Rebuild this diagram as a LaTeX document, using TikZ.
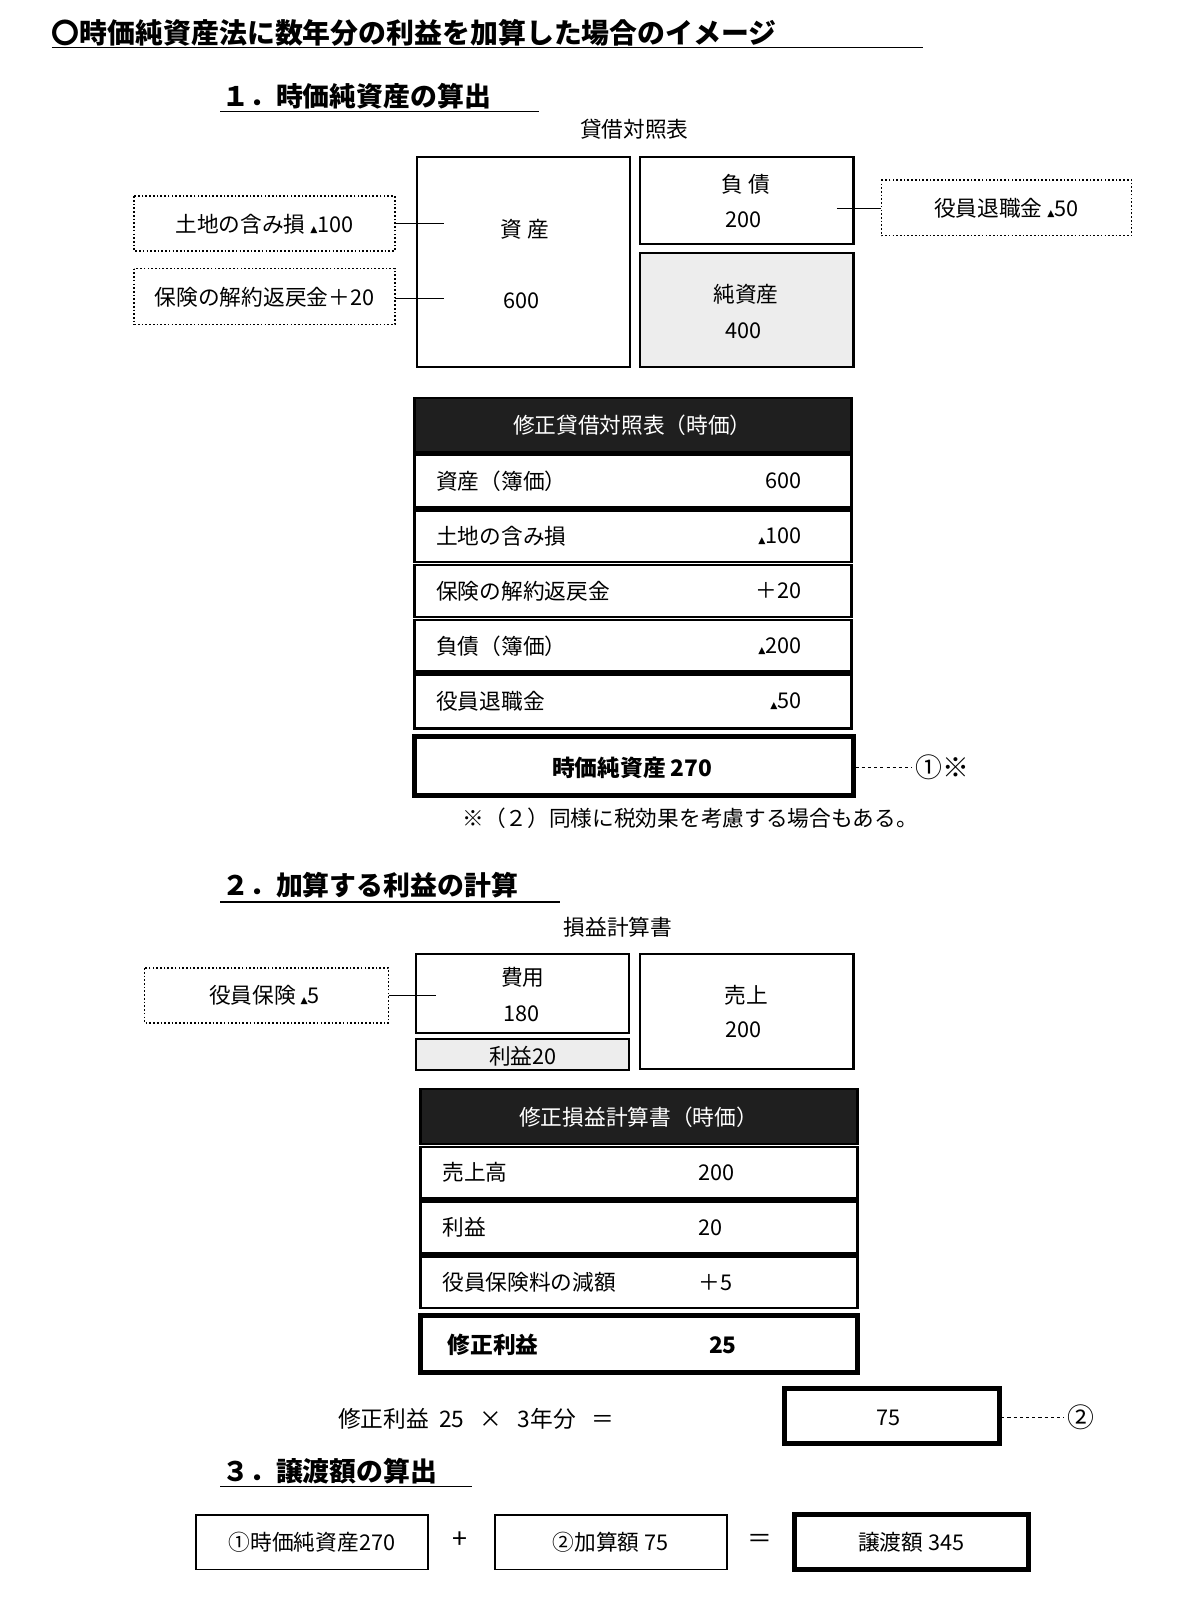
\documentclass[tikz,border=0pt]{standalone}
\usepackage{fontspec}
\setmainfont{Noto Sans CJK JP}
\newfontfamily\sym{DejaVu Sans}
\begin{document}
\begin{tikzpicture}[x=1pt,y=-1pt,
  every node/.style={inner sep=0pt,font=\fontsize{21}{24}\selectfont},
  bx/.style={draw,line width=2pt},
  dbx/.style={draw,dotted,line width=1.6pt},
  hd/.style={fill=black!88,draw,line width=2.5pt},
  rw/.style={draw,line width=2.5pt},
  tot/.style={draw,line width=5pt},
  ttl/.style={anchor=west,font=\fontsize{26}{28}\bfseries\selectfont},
  lk/.style={line width=1pt}]
\useasboundingbox (0,0) rectangle (1160,1564);
% title
\node[ttl,font=\fontsize{27}{30}\bfseries\selectfont] (t0) at (50,32) {〇時価純資産法に数年分の利益を加算した場合のイメージ};
\draw[line width=1.2pt] (50,46) -- (893,46);
\node[ttl] (h1) at (215,93) {１．時価純資産の算出};
\draw[line width=1.2pt] (213,108) -- (522,108);
\node (bs) at (614,125) {貸借対照表};
% BS
\draw[bx] (404,152) rectangle (610,355);
\node (a1) at (508,222) {資 産};
\node (a2) at (505,291) {600};
\draw[bx] (619,152) rectangle (826,236);
\node at (722,178) {負 債};
\node at (720,213) {200};
\draw[bx,fill=black!7] (619,245) rectangle (826,355);
\node at (722,285) {純資産};
\node at (720,320) {400};
\draw[dbx] (130,190) rectangle (382,243);
\node (d1) at (256,217) {土地の含み損 {\sym\small▲}100};
\draw[dbx] (130,260) rectangle (382,314);
\node (d2) at (256,288) {保険の解約返戻金＋20};
\draw[lk] (382,216) -- (430,216);
\draw[lk] (382,289) -- (430,289);
\draw[dbx] (853,174) rectangle (1095,228);
\node (d3) at (974,202) {役員退職金 {\sym\small▲}50};
\draw[lk] (810,202) -- (853,202);
% table 1
\draw[hd] (401,385) rectangle (824,438);
\node[text=white] at (612,412) {修正貸借対照表（時価）};
\foreach \a/\b/\l/\v in {440/491/資産（簿価）/600, 494/544/土地の含み損/{\sym\small▲}100, 547/597/保険の解約返戻金/＋20, 600/650/負債（簿価）/{\sym\small▲}200, 653/705/役員退職金/{\sym\small▲}50}{
  \draw[rw] (401,\a) rectangle (824,\b);
  \node[anchor=west] at (422,{(\a+\b)/2}) {\l};
  \node[anchor=east] at (776,{(\a+\b)/2}) {\v};
}
\draw[tot] (401,713) rectangle (826,770);
\node[font=\fontsize{22}{24}\bfseries\selectfont] (tn) at (612,743) {時価純資産 270};
\node[font=\fontsize{26}{28}\selectfont] (c1) at (912,743) {①※};
\draw[dashed,line width=1.5pt] (828,743) -- (883,743);
\node (note) at (668,792) {※（２）同様に税効果を考慮する場合もある。};
% section 2
\node[ttl] (h2) at (215,857) {２．加算する利益の計算};
\draw[line width=1.2pt] (213,873) -- (542,873);
\node (pl) at (598,897) {損益計算書};
\draw[bx] (403,923) rectangle (609,1000);
\node at (506,946) {費用};
\node at (505,981) {180};
\draw[bx,fill=black!7] (403,1006) rectangle (609,1036);
\node at (506,1022) {利益20};
\draw[bx] (619,923) rectangle (826,1035);
\node at (722,963) {売上};
\node at (720,997) {200};
\draw[dbx] (140,937) rectangle (376,990);
\node (d4) at (256,963) {役員保険 {\sym\small▲}5};
\draw[lk] (376,963) -- (422,963);
\draw[hd] (407,1054) rectangle (830,1107);
\node[text=white] at (618,1081) {修正損益計算書（時価）};
\foreach \a/\b/\l/\v in {1110/1160/売上高/200, 1163/1213/利益/20, 1216/1266/役員保険料の減額/＋5}{
  \draw[rw] (407,\a) rectangle (830,\b);
  \node[anchor=west] at (428,{(\a+\b)/2}) {\l};
  \node[anchor=west] at (676,{(\a+\b)/2}) {\v};
}
\draw[tot] (407,1273) rectangle (830,1328);
\node[anchor=west,font=\fontsize{22}{24}\bfseries\selectfont] at (433,1302) {修正利益};
\node[anchor=west,font=\fontsize{22}{24}\bfseries\selectfont] at (686,1302) {25};
\node[anchor=west,font=\fontsize{22}{24}\selectfont] (eq) at (327,1373) {修正利益\ \ 25\ \ \ ×\ \ \ 3年分\ \ \ ＝};
\draw[tot] (759,1344) rectangle (967,1397);
\node (v75) at (860,1372) {75};
\draw[dashed,line width=1.5pt] (969,1372) -- (1030,1372);
\node[font=\fontsize{26}{28}\selectfont] (c2) at (1046,1372) {②};
% section 3
\node[ttl] (h3) at (215,1424) {３．譲渡額の算出};
\draw[line width=1.2pt] (213,1439) -- (457,1439);
\draw[line width=1.8pt] (190,1466) rectangle (414,1519);
\node (r1) at (302,1493) {①時価純資産270};
\node[font=\fontsize{26}{28}\selectfont] at (445,1491) {+};
\draw[line width=1.8pt] (479,1466) rectangle (704,1519);
\node (r2) at (591,1493) {②加算額 75};
\node[font=\fontsize{24}{28}\selectfont] at (735,1491) {＝};
\draw[tot] (769,1466) rectangle (995,1519);
\node (r3) at (882,1493) {譲渡額 345};
\end{tikzpicture}
\end{document}
